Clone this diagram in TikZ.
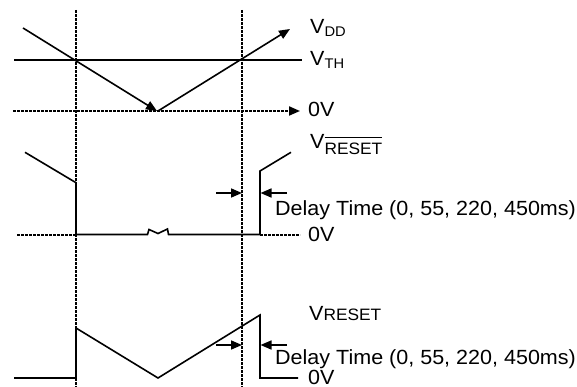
\documentclass[tikz,border=0pt]{standalone}
\usepackage{fontspec}
\setmainfont{Liberation Sans}
\newfontfamily\labfont[FakeStretch=1.05]{Liberation Sans}
\usetikzlibrary{arrows.meta}
\newcommand{\smallsub}[1]{\raisebox{-2.7pt}{\fontsize{14}{14}\selectfont #1}}
\newcommand{\bigsub}[1]{\raisebox{-0.8pt}{\fontsize{16.5}{16.5}\selectfont #1}}
\newcommand{\barsub}[1]{\raisebox{-6pt}{\fontsize{16.5}{16.5}\selectfont\vbox{\hrule height 1.4pt\kern 4.5pt\hbox{#1}}}}
\begin{document}
\begin{tikzpicture}[x=1pt,y=-1pt,
  wave/.style={line width=1.6pt},
  grid/.style={line width=2pt, dash pattern=on 2.8pt off 1.2pt},
  tip/.style={-{Triangle[length=11pt,width=9pt]}},
  lab/.style={anchor=base west, inner sep=0pt, font=\labfont\fontsize{20.5}{24}\selectfont},
]
\useasboundingbox (0,0) rectangle (577,387);

% vertical reference lines
\coordinate (g1t) at (76,10);  \coordinate (g1b) at (76,387);
\coordinate (g2t) at (242,10); \coordinate (g2b) at (242,387);
\draw[grid] (g1t) -- (g1b);
\draw[grid] (g2t) -- (g2b);

% ---- VDD waveform ----
\draw[wave] (14,60) -- (302,60);
\draw[grid,tip] (13,111) -- (300,111);
\draw[wave,tip] (23,28) -- (157,111);
\draw[wave,tip] (158,111) -- (290,29);

\node[lab] (vdd) at (310,34) {V\smallsub{DD}};
\node[lab] (vth) at (310,65.7) {V\smallsub{TH}};
\node[lab] (z1) at (308,116.5) {0V};

% ---- /RESET waveform ----
\draw[grid] (17,234.5) -- (76,234.5);
\draw[grid] (260,234.5) -- (300,234.5);
\draw[wave] (25,152.3) -- (76,182.7) -- (76,234.5) -- (147.5,234.5) -- (149,229.5)
  -- (158,233.5) -- (167.5,229) -- (168.5,234.5) -- (260,234.5) -- (260,171) -- (291,152.3);
\draw[wave,tip] (216,193) -- (242,193);
\draw[wave,tip] (287,193) -- (260.5,193);

\node[lab] (vrb) at (310,148.3) {V\barsub{RESET}};
\node[lab] (d1) at (275,215.7) {Delay Time (0, 55, 220, 450ms)};
\node[lab] (z2) at (308,241) {0V};

% ---- RESET waveform ----
\draw[wave] (14,378) -- (76,378) -- (76,328) -- (158,378) -- (260,315) -- (260,378) -- (298,378);
\draw[wave,tip] (216,345) -- (242,345);
\draw[wave,tip] (287,345) -- (260.5,345);

\node[lab] (vr) at (309,320) {V\bigsub{RESET}};
\node[lab] (d2) at (275,364.6) {Delay Time (0, 55, 220, 450ms)};
\node[lab] (z3) at (308,384) {0V};
\end{tikzpicture}
\end{document}
